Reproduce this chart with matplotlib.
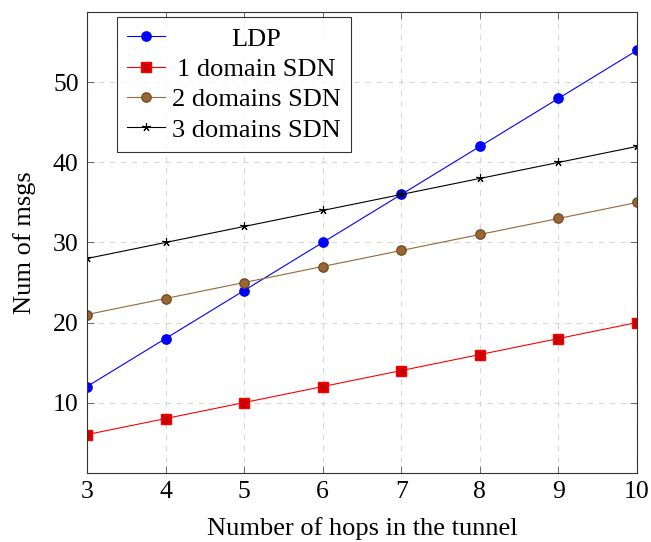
import matplotlib
matplotlib.use("Agg")
import matplotlib.pyplot as plt

# data
hops = [3, 4, 5, 6, 7, 8, 9, 10]
ldp = [12, 18, 24, 30, 36, 42, 48, 54]
sdn_1 = [6, 8, 10, 12, 14, 16, 18, 20]
sdn_2 = [21, 23, 25, 27, 29, 31, 33, 35]
sdn_3 = [28, 30, 32, 34, 36, 38, 40, 42]

plt.rcParams['font.family'] = ['Liberation Serif', 'DejaVu Serif']

fig = plt.figure(figsize=(6.51, 5.42), dpi=100)
ax = fig.add_axes([0.1336, 0.1273, 0.8449, 0.8506])

lw = 0.8
ax.plot(hops, ldp, color='blue', lw=lw, marker='o', ms=6.7,
        mfc='blue', mec='blue', label='LDP')
ax.plot(hops, sdn_1, color='red', lw=lw, marker='s', ms=6.5,
        mfc=(0.8, 0, 0), mec='red', label='1 domain SDN')
ax.plot(hops, sdn_2, color=(0.6, 0.4, 0.2), lw=lw, marker='o', ms=6.7,
        mfc=(0.6, 0.4, 0.2), mec=(0.45, 0.3, 0.15), label='2 domains SDN')
ax.plot(hops, sdn_3, color='black', lw=lw, marker=(5, 2, 0), ms=6,
        mew=0.8, label='3 domains SDN')

ax.set_xlim(3, 10)
ax.set_ylim(1.2, 58.8)
ax.set_xticks(hops)
ax.set_yticks([10, 20, 30, 40, 50])

ax.grid(True, linestyle=(0, (5, 5)), color='#d8d8d8', lw=0.8)
ax.set_axisbelow(True)
ax.tick_params(direction='in', top=True, right=True, length=5,
               width=0.6, color='#555555', labelsize=18.5, pad=6)
for s in ax.spines.values():
    s.set_linewidth(0.8)
    s.set_color('#333333')

ax.set_xlabel('Number of hops in the tunnel', fontsize=19, labelpad=10)
ax.set_ylabel('Num of msgs', fontsize=19, labelpad=12)

leg = ax.legend(loc='upper left', bbox_to_anchor=(0.0545, 0.989), fontsize=19,
                frameon=True, fancybox=False, edgecolor='black',
                handlelength=1.45, handletextpad=0.25, borderpad=0.38,
                labelspacing=0.26, borderaxespad=0)
leg.get_frame().set_linewidth(0.8)

# centre the legend texts in their column, as in the reference
renderer = fig.canvas.get_renderer()
texts = leg.get_texts()
widths = [t.get_window_extent(renderer).width for t in texts]
wmax = max(widths)
for t, w in zip(texts, widths):
    t.set_x((wmax - w) / 2)

fig.savefig('out.png', dpi=100)
